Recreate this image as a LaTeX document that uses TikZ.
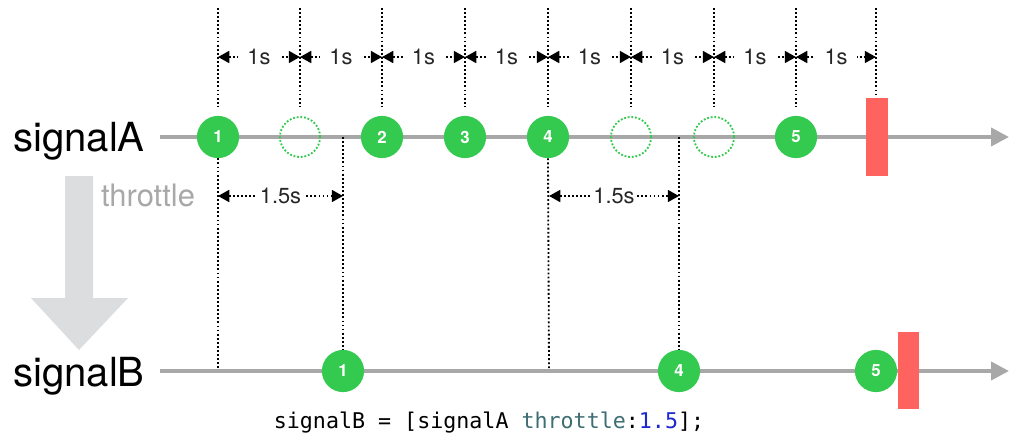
\documentclass[tikz,border=0pt]{standalone}
\usepackage{fontspec}
\setmainfont{TeX Gyre Heros}
\setmonofont{DejaVu Sans Mono}
\usetikzlibrary{arrows.meta}

\definecolor{evgreen}{RGB}{52,201,79}
\definecolor{endred}{RGB}{255,99,95}
\definecolor{linegray}{RGB}{168,168,168}
\definecolor{bigarrow}{RGB}{220,221,222}
\definecolor{codeteal}{RGB}{62,109,116}
\definecolor{codeblue}{RGB}{28,40,207}

\tikzset{
    timeline/.style={line width=2.8pt, draw=linegray, -{Triangle[length=12.8pt,width=12.8pt]}},
    event/.style={circle, fill=evgreen, text=white, inner sep=0pt, minimum size=30pt,
        font=\bfseries\fontsize{12}{12}\selectfont},
    missed/.style={circle, draw=evgreen, line width=1.3pt, dash pattern=on 1.3pt off 1.3pt,
        inner sep=0pt, minimum size=28.5pt},
    finish/.style={fill=endred, inner sep=0pt, minimum width=15.6pt, minimum height=55pt},
    tick/.style={line width=1.3pt, dash pattern=on 1.3pt off 1.6pt},
    measure/.style={tick, {Triangle[length=8pt,width=8.5pt]}-{Triangle[length=8pt,width=8.5pt]}},
    span/.style={fill=white, inner xsep=6.5pt, inner ysep=1pt, text=black!85,
        font=\fontsize{15.5}{16}\selectfont},
    signal/.style={anchor=base, font=\fontsize{28.5}{30}\selectfont},
}

\begin{document}
\begin{tikzpicture}[x=0.025cm, y=-0.025cm]
    \useasboundingbox (0,0) rectangle (1020,440);

    % Signal names
    \node[signal] (sA) at (79,152) {signalA};
    \node[signal] (sB) at (79,386) {signalB};

    % Throttle arrow
    \fill[bigarrow] (65,176) -- (93,176) -- (93,298) -- (128,298) -- (79,350)
        -- (31,298) -- (65,298) -- cycle;
    \node[anchor=base, text=linegray, font=\fontsize{22}{24}\selectfont] (op) at (148,206) {throttle};

    % Timelines
    \coordinate (aStart) at (160,137);
    \coordinate (aEnd) at (1009,137);
    \coordinate (bStart) at (160,371);
    \coordinate (bEnd) at (1009,371);
    \draw[timeline] (aStart) -- (aEnd);
    \draw[timeline] (bStart) -- (bEnd);

    % Ticks every 1s
    \foreach \i/\x in {0/218,1/300,2/382,3/465,4/548,5/631,6/714,7/796,8/876} {
        \coordinate (top\i) at (\x,8);
        \coordinate (bot\i) at (\x,107);
        \coordinate (m\i) at (\x,57);
        \draw[tick] (top\i) -- (bot\i);
    }
    \foreach \i [evaluate=\i as \j using int(\i+1)] in {0,...,7}
        \draw[measure] (m\i) -- node[span] {1s} (m\j);

    % signalA events
    \node[event] (a1) at (218,137) {1};
    \node[missed] (x1) at (300,137) {};
    \node[event] (a2) at (382,137) {2};
    \node[event] (a3) at (465,137) {3};
    \node[event] (a4) at (548,137) {4};
    \node[missed] (x2) at (631,137) {};
    \node[missed] (x3) at (714,137) {};
    \node[event] (a5) at (796,137) {5};
    \node[finish] (endA) at (877,137) {};

    % signalB events
    \node[event] (b1) at (343,371) {1};
    \node[event] (b4) at (679,371) {4};
    \node[event] (b5) at (876,371) {5};
    \node[finish] (endB) at (908.5,370.5) {};

    % Throttle windows
    \coordinate (w1) at (343,137);
    \coordinate (w4) at (679,137);
    \coordinate (f1) at (218,369);
    \coordinate (f4) at (549,369);
    \draw[tick] (a1.south) -- (f1);
    \draw[tick] (a4.south) -- (f4);
    \draw[tick] (w1) -- (b1.north);
    \draw[tick] (w4) -- (b4.north);
    \coordinate (s1) at (218,196);
    \coordinate (e1) at (343,196);
    \coordinate (s4) at (549,196);
    \coordinate (e4) at (679,196);
    \draw[measure] (s1) -- node[span, inner xsep=2pt] {1.5s} (e1);
    \draw[measure] (s4) -- node[span, inner xsep=2pt] {1.5s} (e4);

    % Code
    \node[anchor=base, font=\ttfamily\fontsize{15.4}{16}\selectfont] (code) at (489,428)
        {signalB = [signalA \textcolor{codeteal}{throttle}:\textcolor{codeblue}{1.5}];};
\end{tikzpicture}
\end{document}
